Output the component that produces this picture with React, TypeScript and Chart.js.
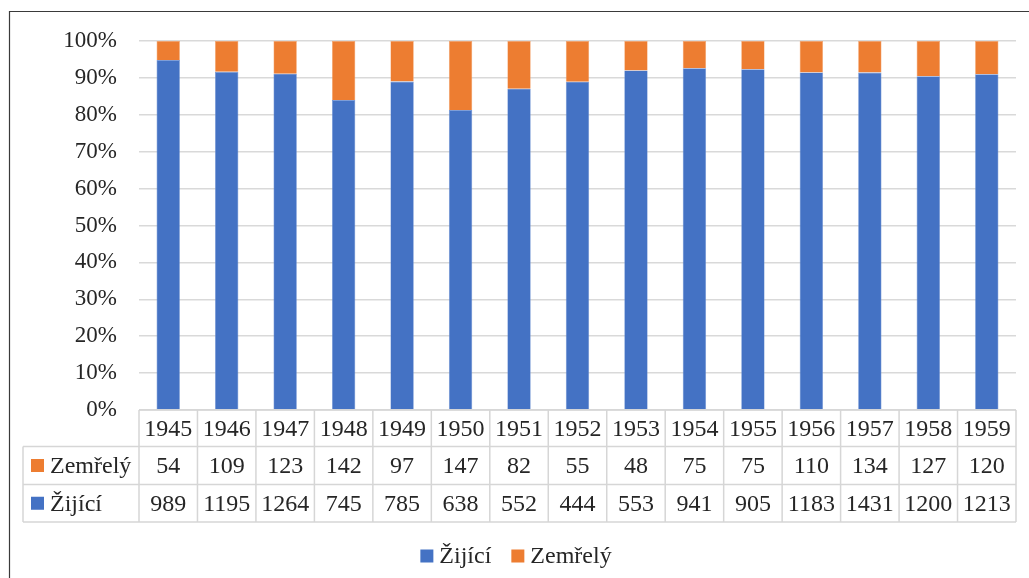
import React, { useEffect, useRef } from "react";
import { Chart, registerables } from "chart.js";

Chart.register(...registerables);

const years = ["1945","1946","1947","1948","1949","1950","1951","1952","1953","1954","1955","1956","1957","1958","1959"];
const zemrely = [54,109,123,142,97,147,82,55,48,75,75,110,134,127,120];
const zijici = [989,1195,1264,745,785,638,552,444,553,941,905,1183,1431,1200,1213];
const seriesNames = ["Žijící", "Zemřelý"];
const colors = ["#4472C4", "#ED7D31"];
const yTicks = [0,10,20,30,40,50,60,70,80,90,100];

const FONT = "'Liberation Serif', 'DejaVu Serif', serif";
const TEXT = "#262626";
const LINE = "#D6D6D6";

const pct = (a: number[], b: number[]) => a.map((v, i) => (v / (a[i] + b[i])) * 100);

const tablePlugin = {
  id: "tablePlugin",
  afterDraw(chart: any) {
    const ctx = chart.ctx as CanvasRenderingContext2D;
    const xs = chart.scales.x;
    const area = chart.chartArea;
    const n = years.length;
    const colW = (area.right - area.left) / n;
    const top = area.bottom;
    const rows = [top, top + 36.5, top + 74.5, top + 112];
    const labelLeft = 23;
    ctx.save();
    // outer border
    ctx.strokeStyle = "#3a3a3a";
    ctx.lineWidth = 1.2;
    ctx.beginPath();
    ctx.moveTo(9.5, 600);
    ctx.lineTo(9.5, 11.5);
    ctx.lineTo(1040, 11.5);
    ctx.stroke();

    ctx.strokeStyle = LINE;
    ctx.lineWidth = 1.5;
    ctx.beginPath();
    // horizontal lines
    ctx.moveTo(area.left, rows[0]); ctx.lineTo(area.right, rows[0]);
    ctx.moveTo(labelLeft, rows[1]); ctx.lineTo(area.right, rows[1]);
    ctx.moveTo(labelLeft, rows[2]); ctx.lineTo(area.right, rows[2]);
    ctx.moveTo(labelLeft, rows[3]); ctx.lineTo(area.right, rows[3]);
    // vertical lines
    ctx.moveTo(labelLeft, rows[1]); ctx.lineTo(labelLeft, rows[3]);
    for (let i = 0; i <= n; i++) {
      const x = area.left + i * colW;
      ctx.moveTo(x, rows[0]); ctx.lineTo(x, rows[3]);
    }
    ctx.stroke();

    ctx.fillStyle = TEXT;
    ctx.font = `24px ${FONT}`;
    ctx.textAlign = "center";
    ctx.textBaseline = "middle";
    const rowData = [zemrely, zijici];
    for (let i = 0; i < n; i++) {
      const cx = xs.getPixelForValue(i);
      ctx.fillText(years[i], cx, (rows[0] + rows[1]) / 2 + 1);
      ctx.fillText(String(rowData[0][i]), cx, (rows[1] + rows[2]) / 2 + 1);
      ctx.fillText(String(rowData[1][i]), cx, (rows[2] + rows[3]) / 2 + 1);
    }
    // row labels
    const labelRows = [
      { name: seriesNames[1], color: colors[1], y: (rows[1] + rows[2]) / 2 },
      { name: seriesNames[0], color: colors[0], y: (rows[2] + rows[3]) / 2 },
    ];
    ctx.textAlign = "left";
    for (const r of labelRows) {
      ctx.fillStyle = r.color;
      ctx.fillRect(31, r.y - 6.5, 13, 13);
      ctx.fillStyle = TEXT;
      ctx.fillText(r.name, 50, r.y + 1);
    }

    // legend
    const ly = 556;
    ctx.font = `24px ${FONT}`;
    const w0 = ctx.measureText(seriesNames[0]).width;
    const w1 = ctx.measureText(seriesNames[1]).width;
    const gap = 20;
    const total = 13 + 6 + w0 + gap + 13 + 6 + w1;
    let x = 516 - total / 2;
    ctx.fillStyle = colors[0];
    ctx.fillRect(x, ly - 6.5, 13, 13);
    x += 19;
    ctx.fillStyle = TEXT;
    ctx.fillText(seriesNames[0], x, ly + 1);
    x += w0 + gap;
    ctx.fillStyle = colors[1];
    ctx.fillRect(x, ly - 6.5, 13, 13);
    x += 19;
    ctx.fillStyle = TEXT;
    ctx.fillText(seriesNames[1], x, ly + 1);
    ctx.restore();
  },
};

export default function App() {
  const ref = useRef<HTMLCanvasElement | null>(null);
  useEffect(() => {
    if (!ref.current) return;
    const chart = new Chart(ref.current, {
      type: "bar",
      data: {
        labels: years,
        datasets: [
          { label: seriesNames[0], data: pct(zijici, zemrely), backgroundColor: colors[0], borderColor: "#6f93d4", borderWidth: 0.6 },
          { label: seriesNames[1], data: pct(zemrely, zijici), backgroundColor: colors[1], borderColor: "#f3a46d", borderWidth: 0.6 },
        ],
      },
      options: {
        animation: false,
        responsive: false,
        maintainAspectRatio: false,
        datasets: { bar: { categoryPercentage: 1, barPercentage: 0.4 } },
        layout: { padding: { left: 0, right: 13, top: 41, bottom: 168 } },
        plugins: { legend: { display: false }, tooltip: { enabled: false }, title: { display: false } },
        scales: {
          x: { stacked: true, display: false },
          y: {
            stacked: true,
            min: 0,
            max: 100,
            afterFit: (s: any) => { s.width = 139; },
            afterBuildTicks: (s: any) => { s.ticks = yTicks.map((v) => ({ value: v })); },
            border: { display: false },
            grid: { color: "#D9D9D9", lineWidth: 1.5, drawTicks: false },
            ticks: {
              padding: 22,
              color: TEXT,
              font: { family: FONT, size: 23 },
              callback: (v: any) => `${v}%`,
            },
          },
        },
      },
      plugins: [tablePlugin],
    });
    return () => chart.destroy();
  }, []);
  return (
    <div style={{ position: "fixed", left: 0, top: 0, width: 1029, height: 578, background: "#fff" }}>
      <canvas ref={ref} width={1029} height={578} style={{ width: 1029, height: 578, display: "block" }} />
    </div>
  );
}
